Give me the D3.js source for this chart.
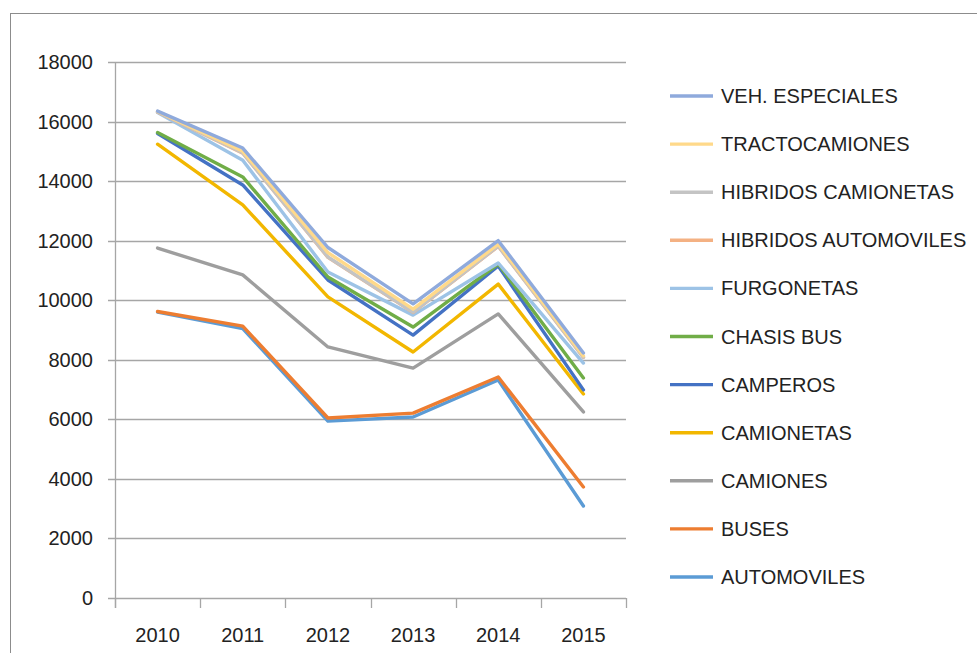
<!DOCTYPE html>
<html>
<head>
<meta charset="utf-8">
<script src="https://cdn.jsdelivr.net/npm/d3@7"></script>
<style>
  body { margin: 0; background: #fff; }
  svg { display: block; font-family: "Liberation Sans", Arial, sans-serif; }
</style>
</head>
<body>
<svg id="chart"></svg>
<script>
// Years on the x axis
const years = ["2010", "2011", "2012", "2013", "2014", "2015"];
const yTicks = [0, 2000, 4000, 6000, 8000, 10000, 12000, 14000, 16000, 18000];

// Values
const automoviles = [9600, 9050, 5940, 6080, 7320, 3090];
const buses = [9620, 9130, 6045, 6210, 7420, 3730];
const camiones = [11750, 10850, 8430, 7720, 9540, 6250];
const camionetas = [15240, 13200, 10110, 8260, 10540, 6850];
const camperos = [15600, 13870, 10680, 8830, 11150, 6990];
const chasisBus = [15630, 14140, 10780, 9100, 11215, 7390];
const furgonetas = [16300, 14700, 10950, 9500, 11250, 7890];
const hibridosAutomoviles = [16320, 14940, 11440, 9590, 11810, 8080];
const hibridosCamionetas = [16330, 14950, 11450, 9600, 11820, 8090];
const tractocamiones = [16340, 15000, 11600, 9700, 11880, 8130];
const vehEspeciales = [16350, 15110, 11770, 9880, 12000, 8230];

const seriesNames = ["AUTOMOVILES", "BUSES", "CAMIONES", "CAMIONETAS", "CAMPEROS", "CHASIS BUS",
    "FURGONETAS", "HIBRIDOS AUTOMOVILES", "HIBRIDOS CAMIONETAS", "TRACTOCAMIONES", "VEH. ESPECIALES"];
const seriesValues = [automoviles, buses, camiones, camionetas, camperos, chasisBus,
    furgonetas, hibridosAutomoviles, hibridosCamionetas, tractocamiones, vehEspeciales];
const seriesColors = ["#5B9BD5", "#ED7D31", "#9E9E9E", "#F2B700", "#4472C4", "#70AD47",
    "#9DC3E6", "#F4B183", "#C4C4C4", "#FFD98A", "#8FAADC"];

let width = 977;
let height = 653;
let svg = d3.select("#chart").attr("width", width).attr("height", height);

// Outer frame of the chart
svg.append("rect")
    .attr("x", 10.5).attr("y", 13.5)
    .attr("width", 980).attr("height", 700)
    .attr("fill", "none")
    .attr("stroke", "#8c8c8c")
    .attr("stroke-width", 1);

let plot = { left: 115, right: 626, top: 62, bottom: 598 };

let x = d3.scaleBand().domain(years).range([plot.left, plot.right]);
let y = d3.scaleLinear().domain([0, 18000]).range([plot.bottom, plot.top]);

// Gridlines with the small ticks on the left
let grid = svg.append("g");
grid.selectAll("line")
    .data(yTicks)
    .enter()
    .append("line")
    .attr("x1", plot.left - 7)
    .attr("x2", plot.right)
    .attr("y1", (d) => Math.round(y(d)) + 0.5)
    .attr("y2", (d) => Math.round(y(d)) + 0.5)
    .attr("stroke", "#a6a6a6")
    .attr("stroke-width", 1.3);

// Y axis line
svg.append("line")
    .attr("x1", plot.left + 0.5).attr("x2", plot.left + 0.5)
    .attr("y1", plot.top).attr("y2", plot.bottom + 10)
    .attr("stroke", "#a6a6a6")
    .attr("stroke-width", 1.3);

// Y labels
svg.append("g")
    .selectAll("text")
    .data(yTicks)
    .enter()
    .append("text")
    .attr("x", 93)
    .attr("y", (d) => y(d) + 7)
    .attr("text-anchor", "end")
    .attr("font-size", 20)
    .attr("fill", "#222")
    .text((d) => d);

// X axis: ticks on band edges, labels in the middle
let edges = years.map((d) => x(d)).concat([plot.right]);
svg.append("g")
    .selectAll("line")
    .data(edges)
    .enter()
    .append("line")
    .attr("x1", (d) => Math.round(d) + 0.5)
    .attr("x2", (d) => Math.round(d) + 0.5)
    .attr("y1", plot.bottom)
    .attr("y2", plot.bottom + 10)
    .attr("stroke", "#a6a6a6")
    .attr("stroke-width", 1.3);

svg.append("g")
    .selectAll("text")
    .data(years)
    .enter()
    .append("text")
    .attr("x", (d) => x(d) + x.bandwidth() / 2)
    .attr("y", 642)
    .attr("text-anchor", "middle")
    .attr("font-size", 20)
    .attr("fill", "#222")
    .text((d) => d);

// Lines
let line = d3.line()
    .x((d, i) => x(years[i]) + x.bandwidth() / 2)
    .y((d) => y(d));

svg.append("g")
    .selectAll("path")
    .data(seriesValues)
    .enter()
    .append("path")
    .attr("d", (d) => line(d))
    .attr("fill", "none")
    .attr("stroke", (d, i) => seriesColors[i])
    .attr("stroke-width", 3.4)
    .attr("stroke-linejoin", "round")
    .attr("stroke-linecap", "round");

// Legend (reversed order, like the original)
let legendIdx = d3.range(seriesNames.length).reverse();
let legend = svg.append("g")
    .selectAll("g")
    .data(legendIdx)
    .enter()
    .append("g")
    .attr("transform", (d, i) => `translate(0, ${96 + i * 48.1})`);

legend.append("line")
    .attr("x1", 670).attr("x2", 713)
    .attr("y1", 0).attr("y2", 0)
    .attr("stroke", (d) => seriesColors[d])
    .attr("stroke-width", 3.4);

legend.append("text")
    .attr("x", 721)
    .attr("y", 7)
    .attr("font-size", 20)
    .attr("fill", "#222")
    .text((d) => seriesNames[d]);
</script>
</body>
</html>
